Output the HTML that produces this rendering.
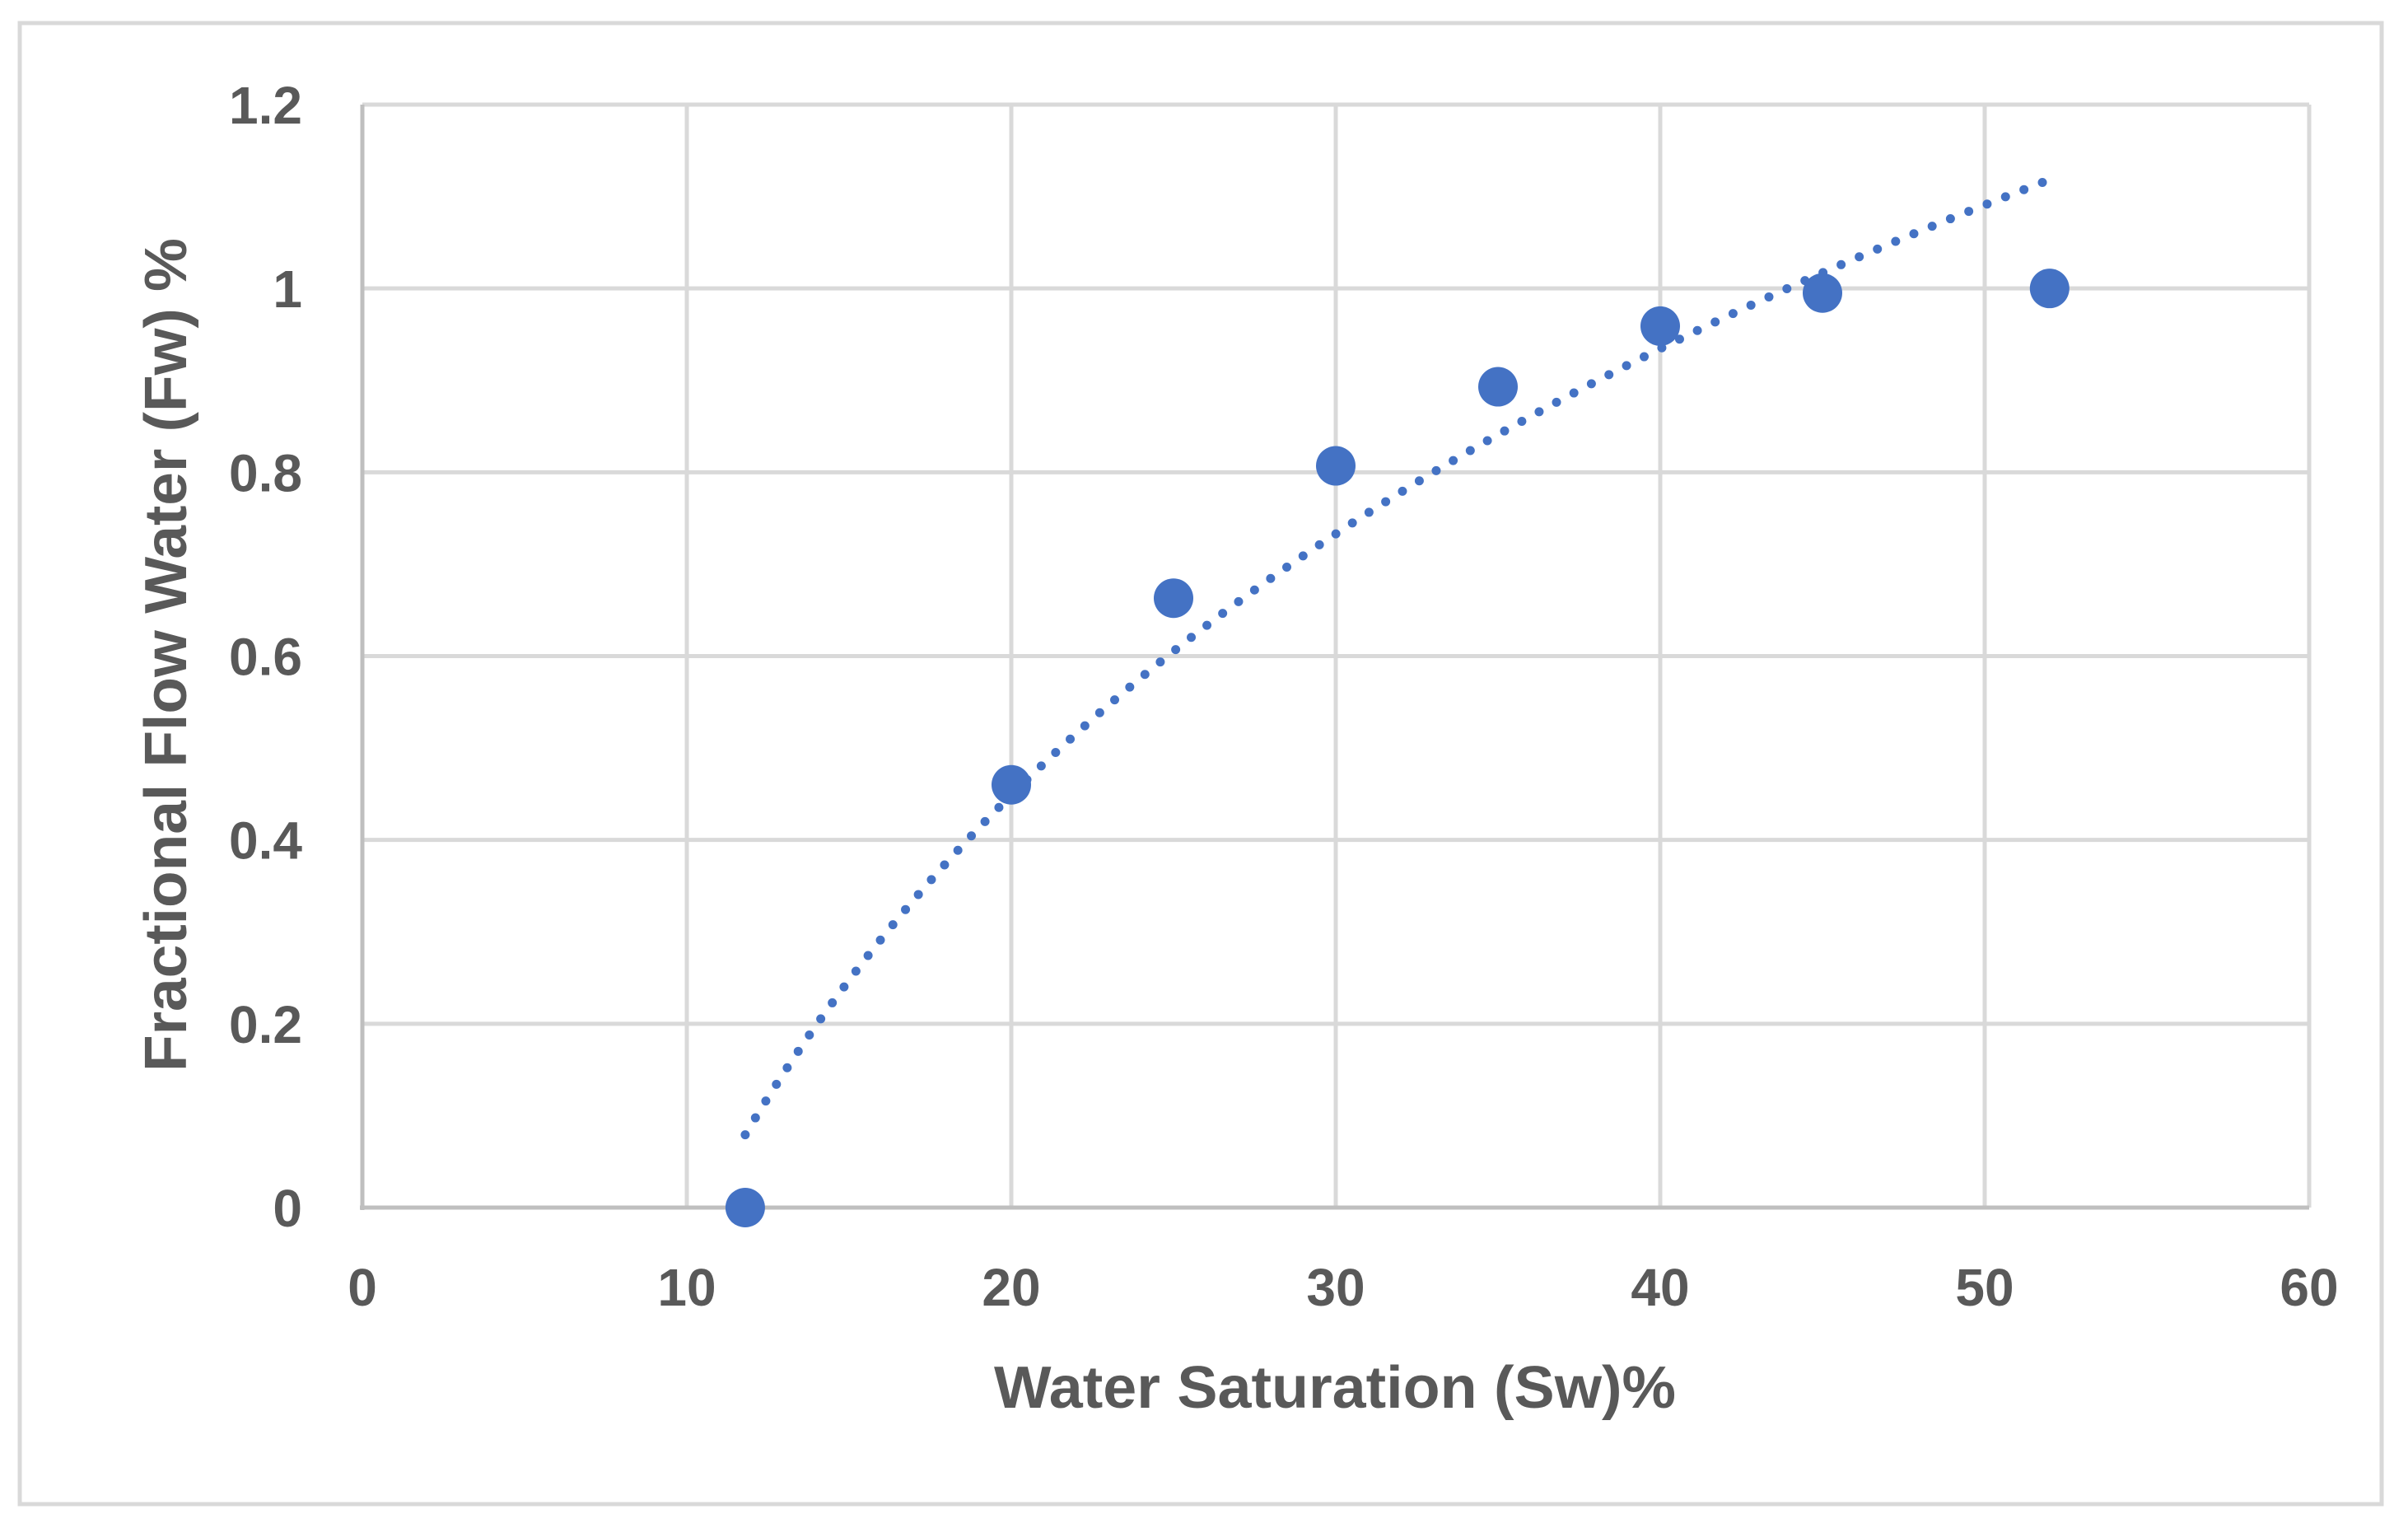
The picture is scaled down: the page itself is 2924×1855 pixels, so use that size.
<!DOCTYPE html>
<html><head><meta charset="utf-8"><style>
html,body{margin:0;padding:0;background:#fff;}
svg{display:block;}
text{font-family:"Liberation Sans",sans-serif;font-weight:bold;fill:#595959;}
</style></head><body>
<svg id="chart" width="2924" height="1855" viewBox="0 0 2924 1855">
<rect x="24" y="28" width="2868" height="1798" fill="#fff" stroke="#d9d9d9" stroke-width="5"/>
<g id="grid"></g>
<g id="axes"></g>
<g id="trend"></g>
<g id="points"></g>
<g id="labels"></g>
<text x="1207" y="1709" font-size="72" textLength="828" lengthAdjust="spacingAndGlyphs">Water Saturation (Sw)%</text>
<text transform="translate(226,795) rotate(-90)" x="0" y="0" font-size="72" text-anchor="middle" textLength="1012" lengthAdjust="spacingAndGlyphs">Fractional Flow Water (Fw) %</text>
</svg>
<script>
const xValues = [11.8, 20, 25, 30, 35, 40, 45, 52];
const yValues = [0, 0.46, 0.663, 0.807, 0.893, 0.959, 0.995, 1.0];
const xTicks = [0, 10, 20, 30, 40, 50, 60];
const yTicks = [0, 0.2, 0.4, 0.6, 0.8, 1, 1.2];
const xTickLabels = ["0","10","20","30","40","50","60"];
const yTickLabels = ["0","0.2","0.4","0.6","0.8","1","1.2"];

const NS = "http://www.w3.org/2000/svg";
const L = 440, R = 2804, T = 127, B = 1466;
const xMin = 0, xMax = 60, yMin = 0, yMax = 1.2;
function sx(v){ return L + (v - xMin) / (xMax - xMin) * (R - L); }
function sy(v){ return B - (v - yMin) / (yMax - yMin) * (B - T); }
function mk(tag, attrs, parent){
  const e = document.createElementNS(NS, tag);
  for (const k in attrs) e.setAttribute(k, attrs[k]);
  parent.appendChild(e);
  return e;
}
const grid = document.getElementById('grid');
const axes = document.getElementById('axes');
const labels = document.getElementById('labels');
xTicks.forEach((t, i) => {
  if (t === xMin) return;
  const l = mk('line', {x1: sx(t), x2: sx(t), y1: T, y2: B, stroke: '#d9d9d9', 'stroke-width': 5}, grid);
  
  
});
yTicks.forEach((t, i) => {
  if (t === yMin) return;
  const l = mk('line', {x1: L, x2: R, y1: sy(t), y2: sy(t), stroke: '#d9d9d9', 'stroke-width': 5}, grid);
  
  
});
const ya = mk('line', {x1: L, x2: L, y1: T, y2: B + 3, stroke: '#bfbfbf', 'stroke-width': 5}, axes);


const xa = mk('line', {x1: L - 3, x2: R, y1: B, y2: B, stroke: '#bfbfbf', 'stroke-width': 5}, axes);



xTicks.forEach((t, i) => {
  const tx = mk('text', {x: sx(t), y: 1585, 'font-size': 64, 'text-anchor': 'middle'}, labels);
  tx.textContent = xTickLabels[i];
  
  
});
yTicks.forEach((t, i) => {
  const tx = mk('text', {x: 367, y: sy(t) + 23, 'font-size': 64, 'text-anchor': 'end'}, labels);
  tx.textContent = yTickLabels[i];
  
  
});

// logarithmic trendline fitted to the data (least squares on ln x)
const n = xValues.length;
const lx = xValues.map(Math.log);
const mx = lx.reduce((a, b) => a + b, 0) / n;
const my = yValues.reduce((a, b) => a + b, 0) / n;
let sxy = 0, sxx = 0;
for (let i = 0; i < n; i++){ sxy += (lx[i] - mx) * (yValues[i] - my); sxx += (lx[i] - mx) ** 2; }
const a = sxy / sxx, b = my - a * mx;
const x0 = Math.min(...xValues), x1 = Math.max(...xValues);
let d = '';
for (let k = 0; k <= 200; k++){
  const xv = x0 + (x1 - x0) * k / 200;
  const yv = a * Math.log(xv) + b;
  d += (k ? 'L' : 'M') + sx(xv).toFixed(1) + ',' + sy(yv).toFixed(1);
}
const tp = mk('path', {d: d, fill: 'none', stroke: '#4472c4', 'stroke-width': 11, 'stroke-linecap': 'round', 'stroke-dasharray': '0 24'}, document.getElementById('trend'));



const pts = document.getElementById('points');
xValues.forEach((xv, i) => {
  const c = mk('circle', {cx: sx(xv), cy: sy(yValues[i]), r: 24, fill: '#4472c4'}, pts);
  
  
});
</script>
</body></html>
